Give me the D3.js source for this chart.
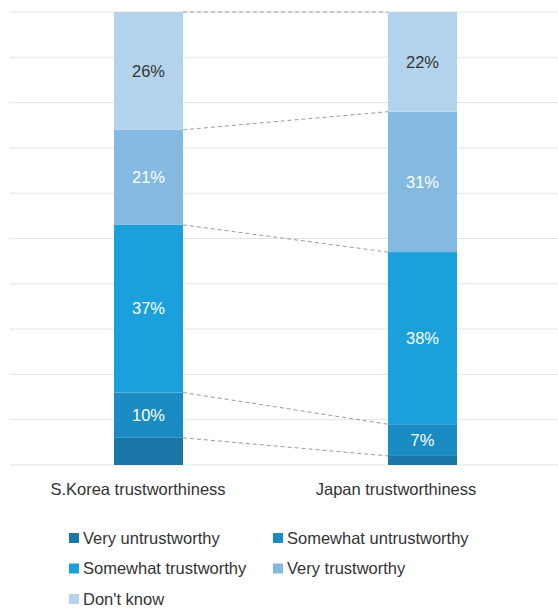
<!DOCTYPE html>
<html>
<head>
<meta charset="utf-8">
<script src="https://cdn.jsdelivr.net/npm/d3@7"></script>
<style>
  html, body { margin: 0; padding: 0; background: #fff; }
  svg { display: block; font-family: "Liberation Sans", Arial, sans-serif; }
</style>
</head>
<body>
<svg id="chart" width="558" height="608"></svg>
<script>
// Survey groups and response shares (%)
const groups = ["S.Korea trustworthiness", "Japan trustworthiness"];
const responses = ["Very untrustworthy", "Somewhat untrustworthy", "Somewhat trustworthy", "Very trustworthy", "Don't know"];
const koreaShares = [6, 10, 37, 21, 26];
const japanShares = [2, 7, 38, 31, 22];
const shownLabels = [false, true, true, true, true];
const yTicks = [0, 10, 20, 30, 40, 50, 60, 70, 80, 90, 100];

const colors = ["#1b77a8", "#1a8bc3", "#1ba0db", "#84b9e2", "#b3d3ed"];
const labelColors = ["#fff", "#fff", "#fff", "#fff", "#333"];

const svg = d3.select("#chart");
const plot = { left: 10, right: 558, top: 12, bottom: 465 };

const y = d3.scaleLinear().domain([0, 100]).range([plot.bottom, plot.top]);
const x = d3.scaleOrdinal().domain(groups).range([114, 388]);
const barW = 69;

// horizontal gridlines
svg.append("g")
  .selectAll("line")
  .data(yTicks)
  .join("line")
  .attr("x1", plot.left).attr("x2", plot.right)
  .attr("y1", d => y(d)).attr("y2", d => y(d))
  .attr("stroke", "#e4e4e4").attr("stroke-width", 1);

// stack the series
const rows = groups.map((g, i) => {
  const vals = i === 0 ? koreaShares : japanShares;
  const r = { group: g };
  responses.forEach((k, j) => r[k] = vals[j]);
  return r;
});
const stacked = d3.stack().keys(responses)(rows);

// dashed connectors between matching segment boundaries
const boundsK = stacked.map(s => s[0][1]);
const boundsJ = stacked.map(s => s[1][1]);
svg.append("g")
  .selectAll("line")
  .data(boundsK.map((b, i) => [b, boundsJ[i]]))
  .join("line")
  .attr("x1", x(groups[0]) + barW).attr("x2", x(groups[1]))
  .attr("y1", d => y(d[0])).attr("y2", d => y(d[1]))
  .attr("stroke", "#9a9a9a").attr("stroke-width", 1)
  .attr("stroke-dasharray", "4,3");

// bars
const layers = svg.append("g").selectAll("g")
  .data(stacked)
  .join("g")
  .attr("fill", (d, i) => colors[i]);

layers.selectAll("rect")
  .data(d => d)
  .join("rect")
  .attr("x", d => x(d.data.group))
  .attr("width", barW)
  .attr("y", d => y(d[1]))
  .attr("height", d => y(d[0]) - y(d[1]));

// value labels
stacked.forEach((s, i) => {
  if (!shownLabels[i]) return;
  svg.append("g").selectAll("text")
    .data(s)
    .join("text")
    .attr("x", d => x(d.data.group) + barW / 2)
    .attr("y", d => (y(d[0]) + y(d[1])) / 2)
    .attr("dy", "0.35em")
    .attr("text-anchor", "middle")
    .attr("font-size", 16.5)
    .attr("fill", labelColors[i])
    .text(d => (d[1] - d[0]) + "%");
});

// category labels
const catX = [138, 396];
svg.append("g").selectAll("text")
  .data(groups)
  .join("text")
  .attr("x", (d, i) => catX[i])
  .attr("y", 489)
  .attr("dy", "0.35em")
  .attr("text-anchor", "middle")
  .attr("font-size", 16.5)
  .attr("fill", "#333")
  .text(d => d);

// legend
const legend = svg.append("g").selectAll("g")
  .data(responses)
  .join("g")
  .attr("transform", (d, i) => `translate(${i % 2 === 0 ? 69 : 273},${538 + Math.floor(i / 2) * 30.5})`);
legend.append("rect")
  .attr("x", 0).attr("y", -5).attr("width", 10).attr("height", 10)
  .attr("fill", (d, i) => colors[i]);
legend.append("text")
  .attr("x", 14).attr("y", 0).attr("dy", "0.35em")
  .attr("font-size", 16.5)
  .attr("fill", "#333")
  .text(d => d);
</script>
</body>
</html>
